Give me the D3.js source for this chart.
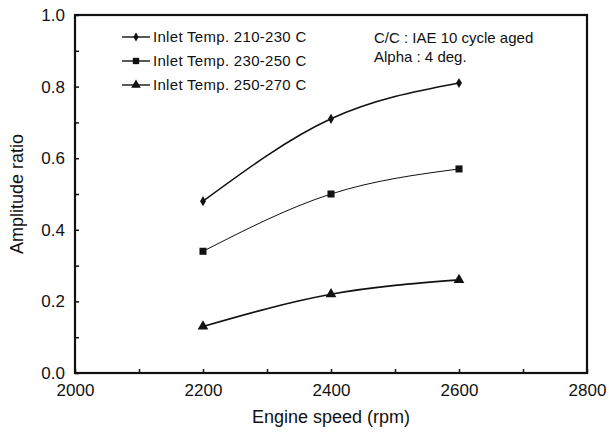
<!DOCTYPE html>
<html>
<head>
<meta charset="utf-8">
<script src="https://cdn.jsdelivr.net/npm/d3@7"></script>
<style>
  body { margin: 0; background: #fff; }
  text { font-family: "Liberation Sans", Arial, sans-serif; fill: #111; }
</style>
</head>
<body>
<div id="chart"></div>
<script>
const speeds = [2200, 2400, 2600];
const temp210 = [0.48, 0.71, 0.81];
const temp230 = [0.34, 0.50, 0.57];
const temp250 = [0.13, 0.22, 0.26];
const seriesNames = ["Inlet Temp. 210-230 C", "Inlet Temp. 230-250 C", "Inlet Temp. 250-270 C"];
const xTicks = [2000, 2200, 2400, 2600, 2800];
const yTicks = [0.0, 0.2, 0.4, 0.6, 0.8, 1.0];
const notes = ["C/C : IAE 10 cycle aged", "Alpha : 4 deg."];

const width = 609,
    height = 434,
    margin = { top: 15, right: 22, bottom: 61, left: 75 };

const series = [
    { name: seriesNames[0], values: temp210, symbol: d3.symbolDiamond, size: 30, stroke: 1.6 },
    { name: seriesNames[1], values: temp230, symbol: d3.symbolSquare, size: 50, stroke: 1.0 },
    { name: seriesNames[2], values: temp250, symbol: d3.symbolTriangle, size: 50, stroke: 1.6 }
];

const x = d3.scaleLinear().domain([2000, 2800]).range([margin.left, width - margin.right]);
const y = d3.scaleLinear().domain([0, 1]).range([height - margin.bottom, margin.top]);

const svg = d3.select("#chart").append("svg")
    .attr("width", width)
    .attr("height", height);

// frame
svg.append("rect")
    .attr("x", x(2000))
    .attr("y", y(1))
    .attr("width", x(2800) - x(2000))
    .attr("height", y(0) - y(1))
    .attr("fill", "none")
    .attr("stroke", "#111")
    .attr("stroke-width", 2.2);

// axes with inward ticks
const xAxis = svg.append("g")
    .attr("transform", `translate(0,${y(0)})`)
    .call(d3.axisBottom(x).tickValues(d3.range(2000, 2801, 100)).tickSize(-4).tickPadding(11)
        .tickFormat(d => xTicks.includes(d) ? d : ""));
xAxis.select(".domain").remove();
xAxis.selectAll("line").attr("stroke", "#111").attr("stroke-width", 1.5);
xAxis.selectAll("text").style("font-size", "17px").attr("fill", "#111");

const yAxis = svg.append("g")
    .attr("transform", `translate(${x(2000)},0)`)
    .call(d3.axisLeft(y).tickValues(d3.range(0, 1.01, 0.1)).tickSize(-4).tickPadding(10)
        .tickFormat(d => yTicks.some(t => Math.abs(t - d) < 1e-6) ? d3.format(".1f")(d) : ""));
yAxis.select(".domain").remove();
yAxis.selectAll("line").attr("stroke", "#111").attr("stroke-width", 1.5);
yAxis.selectAll("text").style("font-size", "17px").attr("fill", "#111");

// axis titles
svg.append("text")
    .attr("x", (x(2000) + x(2800)) / 2)
    .attr("y", 423)
    .attr("text-anchor", "middle")
    .style("font-size", "18px")
    .text("Engine speed (rpm)");

svg.append("text")
    .attr("transform", `translate(23,${(y(0) + y(1)) / 2}) rotate(-90)`)
    .attr("text-anchor", "middle")
    .style("font-size", "18px")
    .text("Amplitude ratio");

// lines
const line = d3.line()
    .x((d, i) => x(speeds[i]))
    .y(d => y(d))
    .curve(d3.curveMonotoneX);

series.forEach(s => {
    svg.append("path")
        .datum(s.values)
        .attr("fill", "none")
        .attr("stroke", "#111")
        .attr("stroke-width", s.stroke)
        .attr("d", line);

    svg.selectAll(null)
        .data(s.values)
        .enter()
        .append("path")
        .attr("transform", (d, i) => `translate(${x(speeds[i])},${y(d)})`)
        .attr("d", d3.symbol().type(s.symbol).size(s.size))
        .attr("fill", "#111");
});

// legend
const legend = svg.append("g");
series.forEach((s, i) => {
    const ly = 37 + i * 24;
    legend.append("line")
        .attr("x1", 122).attr("x2", 150)
        .attr("y1", ly).attr("y2", ly)
        .attr("stroke", "#111")
        .attr("stroke-width", 1.4);
    legend.append("path")
        .attr("transform", `translate(136,${ly})`)
        .attr("d", d3.symbol().type(s.symbol).size(s.size * 0.8))
        .attr("fill", "#111");
    legend.append("text")
        .attr("x", 153)
        .attr("y", ly + 5)
        .style("font-size", "15px")
        .style("letter-spacing", "0.3px")
        .text(s.name);
});

// notes
notes.forEach((n, i) => {
    svg.append("text")
        .attr("x", 374)
        .attr("y", 43 + i * 19)
        .style("font-size", "15px")
        .text(n);
});
</script>
</body>
</html>
